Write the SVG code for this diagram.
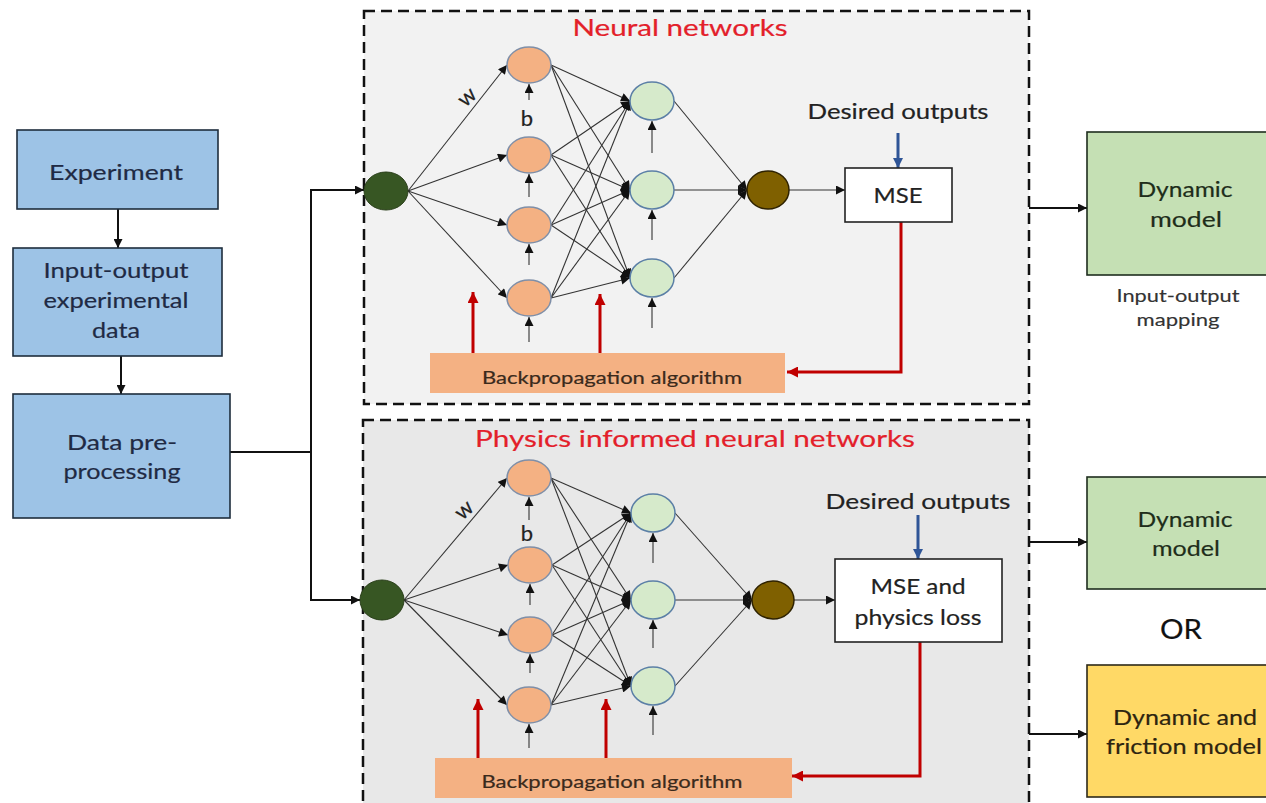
<svg xmlns="http://www.w3.org/2000/svg" width="1266" height="803" viewBox="0 0 1266 803">
<defs>
<marker id="ab" viewBox="0 0 10 10" refX="10" refY="5" markerWidth="10" markerHeight="9" markerUnits="userSpaceOnUse" orient="auto"><path d="M0,0 L10,5 L0,10 z" fill="#111"/></marker>
<marker id="as" viewBox="0 0 10 10" refX="10" refY="5" markerWidth="10" markerHeight="9" markerUnits="userSpaceOnUse" orient="auto"><path d="M0,0 L10,5 L0,10 z" fill="#111"/></marker>
<marker id="ar" viewBox="0 0 10 10" refX="10" refY="5" markerWidth="13" markerHeight="11" markerUnits="userSpaceOnUse" orient="auto"><path d="M0,0 L10,5 L0,10 z" fill="#c00000"/></marker>
<marker id="abl" viewBox="0 0 10 10" refX="10" refY="5" markerWidth="12" markerHeight="10" markerUnits="userSpaceOnUse" orient="auto"><path d="M0,0 L10,5 L0,10 z" fill="#2f5597"/></marker>
<style>
text{font-family:Lato,"Open Sans","Liberation Sans",sans-serif;text-anchor:middle;stroke-width:0.2;paint-order:stroke}
.frame{stroke:#111;stroke-width:2.5;stroke-dasharray:11 6}
.blue{fill:#9dc3e6;stroke:#1f2d3d;stroke-width:1.6}
.green{fill:#c5e0b4;stroke:#1f2d1f;stroke-width:1.6}
.yellow{fill:#ffd966;stroke:#2d2a1a;stroke-width:1.6}
.lbl{font-size:22px;fill:#1f2a44;stroke:#1f2a44}
.lblk{font-size:22px;fill:#222;stroke:#222}
.lblg{font-size:22px;fill:#1e2d1a;stroke:#1e2d1a}
.lbly{font-size:22px;fill:#2d2410;stroke:#2d2410}
.title{font-size:24px;fill:#e3202a;stroke:#e3202a}
.in{fill:#375623;stroke:#2a3f1a;stroke-width:1}
.h1{fill:#f4b183;stroke:#7f8fa8;stroke-width:1.5}
.h2{fill:#d6eacb;stroke:#5b7fa6;stroke-width:1.5}
.out{fill:#7f6000;stroke:#2e2200;stroke-width:1.5}
.loss{fill:#fff;stroke:#222;stroke-width:1.6}
.bp{fill:#f4b183}
.bpt{font-size:18px;fill:#3a2a1c;stroke:#3a2a1c}
.wb{font-size:22px;fill:#222;stroke:#222}
.nn{stroke:#333;stroke-width:1.1;fill:none;marker-end:url(#as)}
.conn{stroke:#111;stroke-width:2;fill:none;marker-end:url(#ab)}
.red{stroke:#c00000;stroke-width:3;fill:none;marker-end:url(#ar)}
.bl{stroke:#2f5597;stroke-width:3;fill:none;marker-end:url(#abl)}
.sm{font-size:18px;fill:#333;stroke:#333;stroke-width:0.15}
</style>
</defs>
<rect width="1266" height="803" fill="#ffffff"/>

<g id="frame-nn">
<rect x="364" y="11" width="665" height="393" fill="#f2f2f2" class="frame"/>
<text class="title" x="680" y="36" textLength="215" lengthAdjust="spacingAndGlyphs">Neural networks</text>
</g>
<g id="frame-pinn">
<rect x="363" y="420" width="666" height="400" fill="#e8e8e8" class="frame"/>
<text class="title" x="695" y="447" textLength="440" lengthAdjust="spacingAndGlyphs">Physics informed neural networks</text>
</g>

<g id="connectors">
<line class="conn" x1="118" y1="209" x2="118" y2="248"/>
<line class="conn" x1="121" y1="356" x2="121" y2="394"/>
<polyline fill="none" stroke="#111" stroke-width="2" points="230,452 311,452"/>
<line stroke="#111" stroke-width="2" x1="311" y1="190" x2="311" y2="600"/>
<line class="conn" x1="310" y1="190" x2="364" y2="190"/>
<line class="conn" x1="310" y1="600" x2="360" y2="600"/>
<line class="conn" x1="1029" y1="208" x2="1087" y2="208"/>
<line class="conn" x1="1029" y1="542" x2="1087" y2="542"/>
<line class="conn" x1="1029" y1="734" x2="1087" y2="734"/>

<line class="nn" x1="408" y1="191" x2="507" y2="65"/>
<line class="nn" x1="408" y1="191" x2="507" y2="155"/>
<line class="nn" x1="408" y1="191" x2="507" y2="225"/>
<line class="nn" x1="408" y1="191" x2="507" y2="298"/>
<line class="nn" x1="551" y1="65" x2="630" y2="101"/>
<line class="nn" x1="551" y1="65" x2="630" y2="190"/>
<line class="nn" x1="551" y1="65" x2="630" y2="278"/>
<line class="nn" x1="551" y1="155" x2="630" y2="101"/>
<line class="nn" x1="551" y1="155" x2="630" y2="190"/>
<line class="nn" x1="551" y1="155" x2="630" y2="278"/>
<line class="nn" x1="551" y1="225" x2="630" y2="101"/>
<line class="nn" x1="551" y1="225" x2="630" y2="190"/>
<line class="nn" x1="551" y1="225" x2="630" y2="278"/>
<line class="nn" x1="551" y1="298" x2="630" y2="101"/>
<line class="nn" x1="551" y1="298" x2="630" y2="190"/>
<line class="nn" x1="551" y1="298" x2="630" y2="278"/>
<line class="nn" x1="674" y1="101" x2="747" y2="190"/>
<line class="nn" x1="674" y1="190" x2="747" y2="190"/>
<line class="nn" x1="674" y1="278" x2="747" y2="190"/>
<line class="nn" x1="789" y1="190" x2="845" y2="190"/>
<line class="nn" x1="529" y1="100" x2="529" y2="84"/>
<line class="nn" x1="529" y1="197" x2="529" y2="174"/>
<line class="nn" x1="529" y1="265" x2="529" y2="244"/>
<line class="nn" x1="529" y1="342" x2="529" y2="317"/>
<line class="nn" x1="652" y1="153" x2="652" y2="121"/>
<line class="nn" x1="652" y1="240" x2="652" y2="210"/>
<line class="nn" x1="652" y1="328" x2="652" y2="298"/>
<line class="bl" x1="898" y1="133" x2="898" y2="168"/>
<polyline class="red" points="901,222 901,372 787,372"/>
<line class="red" x1="473" y1="353" x2="473" y2="292"/>
<line class="red" x1="600" y1="353" x2="600" y2="294"/>

<line class="nn" x1="404" y1="600" x2="507" y2="478"/>
<line class="nn" x1="404" y1="600" x2="508" y2="565"/>
<line class="nn" x1="404" y1="600" x2="508" y2="635"/>
<line class="nn" x1="404" y1="600" x2="507" y2="705"/>
<line class="nn" x1="551" y1="478" x2="631" y2="513"/>
<line class="nn" x1="551" y1="478" x2="631" y2="600"/>
<line class="nn" x1="551" y1="478" x2="631" y2="686"/>
<line class="nn" x1="552" y1="565" x2="631" y2="513"/>
<line class="nn" x1="552" y1="565" x2="631" y2="600"/>
<line class="nn" x1="552" y1="565" x2="631" y2="686"/>
<line class="nn" x1="552" y1="635" x2="631" y2="513"/>
<line class="nn" x1="552" y1="635" x2="631" y2="600"/>
<line class="nn" x1="552" y1="635" x2="631" y2="686"/>
<line class="nn" x1="551" y1="705" x2="631" y2="513"/>
<line class="nn" x1="551" y1="705" x2="631" y2="600"/>
<line class="nn" x1="551" y1="705" x2="631" y2="686"/>
<line class="nn" x1="675" y1="513" x2="752" y2="600"/>
<line class="nn" x1="675" y1="600" x2="752" y2="600"/>
<line class="nn" x1="675" y1="686" x2="752" y2="600"/>
<line class="nn" x1="794" y1="600" x2="835" y2="600"/>
<line class="nn" x1="529" y1="520" x2="529" y2="497"/>
<line class="nn" x1="530" y1="605" x2="530" y2="584"/>
<line class="nn" x1="530" y1="673" x2="530" y2="654"/>
<line class="nn" x1="529" y1="748" x2="529" y2="724"/>
<line class="nn" x1="653" y1="563" x2="653" y2="533"/>
<line class="nn" x1="653" y1="648" x2="653" y2="620"/>
<line class="nn" x1="653" y1="735" x2="653" y2="706"/>
<line class="bl" x1="918" y1="515" x2="918" y2="559"/>
<polyline class="red" points="920,642 920,776 792,776"/>
<line class="red" x1="478" y1="758" x2="478" y2="699"/>
<line class="red" x1="606" y1="758" x2="606" y2="699"/>
</g>

<g id="experiment"><rect class="blue" x="17" y="130" width="201" height="79"/><text class="lbl" x="116" y="180" textLength="134" lengthAdjust="spacingAndGlyphs">Experiment</text></g>
<g id="io-data"><rect class="blue" x="13" y="248" width="209" height="108"/><text class="lbl" x="116" y="278" textLength="145" lengthAdjust="spacingAndGlyphs">Input-output</text><text class="lbl" x="116" y="308" textLength="145" lengthAdjust="spacingAndGlyphs">experimental</text><text class="lbl" x="116" y="338" textLength="48" lengthAdjust="spacingAndGlyphs">data</text></g>
<g id="preprocessing"><rect class="blue" x="13" y="394" width="217" height="124"/><text class="lbl" x="122" y="450" textLength="110" lengthAdjust="spacingAndGlyphs">Data pre-</text><text class="lbl" x="122" y="479" textLength="117" lengthAdjust="spacingAndGlyphs">processing</text></g>

<g id="nn-top">
<g id="nn-in"><ellipse class="in" cx="386" cy="191" rx="22" ry="19"/></g>
<g id="nn-h1"><ellipse class="h1" cx="529" cy="65" rx="22" ry="18"/><ellipse class="h1" cx="529" cy="155" rx="22" ry="18"/><ellipse class="h1" cx="529" cy="225" rx="22" ry="18"/><ellipse class="h1" cx="529" cy="298" rx="22" ry="18"/></g>
<g id="nn-h2"><ellipse class="h2" cx="652" cy="101" rx="22" ry="19"/><ellipse class="h2" cx="652" cy="190" rx="22" ry="19"/><ellipse class="h2" cx="652" cy="278" rx="22" ry="19"/></g>
<g id="nn-out"><ellipse class="out" cx="768" cy="190" rx="21" ry="19"/></g>
<text class="wb" x="467" y="104" transform="rotate(-42 467 97)">w</text>
<text class="wb" x="527" y="126">b</text>
<g id="nn-desired"><text class="lblk" x="898" y="119" textLength="181" lengthAdjust="spacingAndGlyphs">Desired outputs</text></g>
<g id="nn-mse"><rect class="loss" x="845" y="168" width="107" height="54"/><text class="lblk" x="898" y="203" textLength="49" lengthAdjust="spacingAndGlyphs">MSE</text></g>
<g id="nn-bp"><rect class="bp" x="430" y="353" width="355" height="40"/><text class="bpt" x="612" y="384" textLength="260" lengthAdjust="spacingAndGlyphs">Backpropagation algorithm</text></g>
</g>

<g id="pinn">
<g id="pinn-in"><ellipse class="in" cx="382" cy="600" rx="22" ry="20"/></g>
<g id="pinn-h1"><ellipse class="h1" cx="529" cy="478" rx="22" ry="18"/><ellipse class="h1" cx="530" cy="565" rx="22" ry="18"/><ellipse class="h1" cx="530" cy="635" rx="22" ry="18"/><ellipse class="h1" cx="529" cy="705" rx="22" ry="18"/></g>
<g id="pinn-h2"><ellipse class="h2" cx="653" cy="513" rx="22" ry="19"/><ellipse class="h2" cx="653" cy="600" rx="22" ry="19"/><ellipse class="h2" cx="653" cy="686" rx="22" ry="19"/></g>
<g id="pinn-out"><ellipse class="out" cx="773" cy="600" rx="21" ry="19"/></g>
<text class="wb" x="464" y="517" transform="rotate(-42 464 510)">w</text>
<text class="wb" x="527" y="541">b</text>
<g id="pinn-desired"><text class="lblk" x="918" y="509" textLength="185" lengthAdjust="spacingAndGlyphs">Desired outputs</text></g>
<g id="pinn-loss"><rect class="loss" x="835" y="559" width="167" height="83"/><text class="lblk" x="918" y="594" textLength="95" lengthAdjust="spacingAndGlyphs">MSE and</text><text class="lblk" x="918" y="625" textLength="127" lengthAdjust="spacingAndGlyphs">physics loss</text></g>
<g id="pinn-bp"><rect class="bp" x="435" y="758" width="357" height="40"/><text class="bpt" x="612" y="788" textLength="261" lengthAdjust="spacingAndGlyphs">Backpropagation algorithm</text></g>
</g>

<g id="dyn1"><rect class="green" x="1087" y="132" width="200" height="143"/><text class="lblg" x="1185" y="197" textLength="95" lengthAdjust="spacingAndGlyphs">Dynamic</text><text class="lblg" x="1186" y="227" textLength="72" lengthAdjust="spacingAndGlyphs">model</text></g>
<g id="io-map"><text class="sm" x="1178" y="302" textLength="123" lengthAdjust="spacingAndGlyphs">Input-output</text><text class="sm" x="1178" y="326" textLength="83" lengthAdjust="spacingAndGlyphs">mapping</text></g>
<g id="dyn2"><rect class="green" x="1087" y="477" width="200" height="112"/><text class="lblg" x="1185" y="527" textLength="95" lengthAdjust="spacingAndGlyphs">Dynamic</text><text class="lblg" x="1186" y="556" textLength="68" lengthAdjust="spacingAndGlyphs">model</text></g>
<g id="or"><text x="1181" y="639" font-size="27" fill="#111" stroke="#111" textLength="42" lengthAdjust="spacingAndGlyphs">OR</text></g>
<g id="dynfric"><rect class="yellow" x="1087" y="665" width="200" height="132"/><text class="lbly" x="1185" y="725" textLength="144" lengthAdjust="spacingAndGlyphs">Dynamic and</text><text class="lbly" x="1184" y="754" textLength="156" lengthAdjust="spacingAndGlyphs">friction model</text></g>
</svg>
